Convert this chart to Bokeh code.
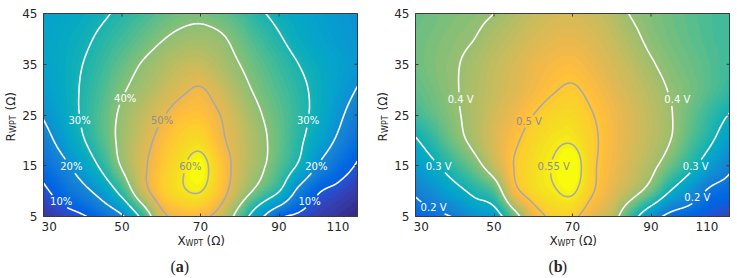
import numpy as np
from contourpy import contour_generator
from bokeh.core.properties import value
from bokeh.embed import file_html
from bokeh.layouts import row
from bokeh.models import FixedTicker, Label, LinearAxis, LinearColorMapper, Range1d
from bokeh.plotting import figure
from bokeh.resources import INLINE

# Scan grid: reactance X_WPT (columns) and resistance R_WPT (rows), in ohms
x_wpt = [30, 35, 40, 45, 50, 55, 60, 65, 70, 75, 80, 85, 90, 95, 100, 105, 110]
r_wpt = [5, 10, 15, 20, 25, 30, 35, 40, 45]

# (a) efficiency in percent, one list per R_WPT row (bottom to top)
efficiency = [
    [5.5, 7.4, 9.3, 13.4, 19.0, 31.8, 47.5, 51.5, 51.5, 47.0, 36.0, 22.7, 11.6, 8.5, 6.6, 4.8, 3.0],
    [8.7, 13.1, 17.6, 23.7, 33.0, 46.1, 54.5, 59.0, 60.2, 53.5, 44.6, 37.4, 30.3, 18.0, 10.7, 8.3, 6.0],
    [13.0, 18.0, 24.3, 31.8, 40.7, 48.2, 54.0, 58.8, 62.3, 54.5, 46.8, 41.7, 35.8, 29.0, 19.5, 13.7, 9.3],
    [16.8, 23.0, 29.3, 35.6, 41.9, 47.1, 52.0, 56.0, 57.5, 51.5, 46.6, 42.0, 37.0, 31.6, 25.2, 18.8, 13.0],
    [20.6, 25.6, 30.9, 36.2, 41.2, 45.2, 49.2, 52.8, 53.5, 50.0, 45.3, 40.6, 36.5, 32.4, 27.6, 21.8, 16.0],
    [23.0, 26.6, 30.8, 35.0, 39.2, 42.5, 45.6, 48.8, 50.5, 46.9, 42.4, 38.5, 35.1, 31.8, 28.0, 23.8, 19.6],
    [24.5, 27.0, 30.0, 33.4, 36.9, 40.3, 43.0, 45.5, 46.0, 43.5, 40.0, 36.6, 33.3, 30.0, 27.0, 24.5, 22.0],
    [25.0, 26.6, 28.6, 31.4, 34.1, 36.9, 39.6, 41.5, 42.2, 41.0, 37.6, 34.1, 30.7, 27.5, 25.0, 23.0, 21.5],
    [24.0, 25.5, 27.0, 29.0, 31.5, 34.0, 36.3, 38.0, 38.5, 37.0, 34.5, 31.0, 28.2, 26.0, 24.0, 22.5, 21.0],
]

# (b) output voltage in volts, one list per R_WPT row (bottom to top)
voltage = [
    [0.167, 0.185, 0.205, 0.243, 0.262, 0.365, 0.467, 0.510, 0.510, 0.467, 0.430, 0.335, 0.240, 0.178, 0.163, 0.148, 0.134],
    [0.210, 0.243, 0.277, 0.317, 0.355, 0.478, 0.525, 0.545, 0.556, 0.505, 0.463, 0.425, 0.373, 0.298, 0.242, 0.190, 0.173],
    [0.254, 0.292, 0.335, 0.378, 0.433, 0.500, 0.530, 0.552, 0.575, 0.510, 0.476, 0.445, 0.414, 0.370, 0.318, 0.262, 0.213],
    [0.294, 0.335, 0.378, 0.415, 0.453, 0.490, 0.520, 0.540, 0.545, 0.510, 0.480, 0.453, 0.427, 0.400, 0.355, 0.310, 0.258],
    [0.340, 0.366, 0.392, 0.418, 0.446, 0.473, 0.500, 0.520, 0.525, 0.502, 0.477, 0.452, 0.428, 0.403, 0.368, 0.333, 0.297],
    [0.360, 0.378, 0.396, 0.416, 0.436, 0.456, 0.476, 0.496, 0.505, 0.487, 0.464, 0.442, 0.420, 0.396, 0.376, 0.355, 0.332],
    [0.370, 0.384, 0.396, 0.413, 0.432, 0.450, 0.467, 0.480, 0.485, 0.470, 0.450, 0.430, 0.405, 0.385, 0.370, 0.355, 0.340],
    [0.370, 0.380, 0.390, 0.400, 0.418, 0.435, 0.450, 0.462, 0.465, 0.455, 0.437, 0.413, 0.390, 0.375, 0.362, 0.350, 0.340],
    [0.365, 0.374, 0.382, 0.390, 0.400, 0.418, 0.434, 0.445, 0.448, 0.440, 0.423, 0.397, 0.383, 0.370, 0.358, 0.348, 0.340],
]

# Contour levels (white and grey lines)
eff_white = [10, 20, 30, 40]
eff_grey = [50, 60]
volt_white = [0.2, 0.3, 0.4]
volt_grey = [0.5, 0.55]

# Colour limits of each map
eff_clim = (3.0, 62.5)
volt_clim = (0.10, 0.565)

# In-line contour labels: (level, text, X, R)
eff_labels = [
    (10, "10%", 34.5, 8.0), (10, "10%", 97.8, 8.0),
    (20, "20%", 37.1, 14.9), (20, "20%", 99.5, 14.9),
    (30, "30%", 39.2, 23.9), (30, "30%", 97.4, 23.9),
    (40, "40%", 50.8, 28.3),
    (50, "50%", 60.2, 23.9),
    (60, "60%", 67.4, 14.9),
]
volt_labels = [
    (0.2, "0.2 V", 34.6, 6.7), (0.2, "0.2 V", 101.8, 8.8),
    (0.3, "0.3 V", 35.9, 14.9), (0.3, "0.3 V", 101.4, 14.9),
    (0.4, "0.4 V", 41.5, 28.1), (0.4, "0.4 V", 96.7, 28.1),
    (0.5, "0.5 V", 58.9, 23.8),
    (0.55, "0.55 V", 65.2, 14.9),
]

x_ticks = [30, 50, 70, 90, 110]
r_ticks = [5, 15, 25, 35, 45]

# parula colour map, 64 entries
_PARULA = [
    (0.2081, 0.1663, 0.5292), (0.2116, 0.1898, 0.5777), (0.2123, 0.2138, 0.6270), (0.2081, 0.2386, 0.6771),
    (0.1959, 0.2645, 0.7279), (0.1707, 0.2919, 0.7792), (0.1253, 0.3242, 0.8303), (0.0591, 0.3598, 0.8683),
    (0.0117, 0.3875, 0.8820), (0.0060, 0.4086, 0.8828), (0.0165, 0.4266, 0.8786), (0.0329, 0.4430, 0.8720),
    (0.0498, 0.4586, 0.8641), (0.0629, 0.4737, 0.8554), (0.0723, 0.4887, 0.8467), (0.0779, 0.5040, 0.8384),
    (0.0793, 0.5200, 0.8312), (0.0749, 0.5375, 0.8263), (0.0641, 0.5570, 0.8240), (0.0488, 0.5772, 0.8228),
    (0.0343, 0.5966, 0.8199), (0.0265, 0.6137, 0.8135), (0.0239, 0.6287, 0.8038), (0.0231, 0.6418, 0.7913),
    (0.0228, 0.6535, 0.7768), (0.0267, 0.6642, 0.7607), (0.0384, 0.6743, 0.7436), (0.0590, 0.6838, 0.7254),
    (0.0843, 0.6928, 0.7062), (0.1133, 0.7015, 0.6859), (0.1453, 0.7098, 0.6646), (0.1801, 0.7177, 0.6424),
    (0.2178, 0.7250, 0.6193), (0.2586, 0.7317, 0.5954), (0.3022, 0.7376, 0.5712), (0.3482, 0.7424, 0.5473),
    (0.3953, 0.7459, 0.5244), (0.4420, 0.7481, 0.5033), (0.4871, 0.7491, 0.4840), (0.5300, 0.7491, 0.4661),
    (0.5709, 0.7485, 0.4494), (0.6099, 0.7473, 0.4337), (0.6473, 0.7456, 0.4188), (0.6834, 0.7435, 0.4044),
    (0.7184, 0.7411, 0.3905), (0.7525, 0.7384, 0.3768), (0.7858, 0.7356, 0.3633), (0.8185, 0.7327, 0.3498),
    (0.8507, 0.7299, 0.3360), (0.8824, 0.7274, 0.3217), (0.9139, 0.7258, 0.3063), (0.9450, 0.7261, 0.2886),
    (0.9739, 0.7314, 0.2666), (0.9938, 0.7455, 0.2403), (0.9990, 0.7653, 0.2164), (0.9955, 0.7861, 0.1967),
    (0.9880, 0.8066, 0.1794), (0.9789, 0.8271, 0.1633), (0.9697, 0.8481, 0.1475), (0.9626, 0.8705, 0.1309),
    (0.9589, 0.8949, 0.1132), (0.9598, 0.9218, 0.0948), (0.9661, 0.9514, 0.0755), (0.9763, 0.9831, 0.0538),
]
PARULA = ["#%02x%02x%02x" % tuple(int(round(c * 255)) for c in rgb) for rgb in _PARULA]

# map area in pixels and the white margins around it
MAP_W, MAP_H = 314, 203
PAD_TOP, PAD_BOTTOM = 13, 62
SX = MAP_W / (x_wpt[-1] - x_wpt[0])
SY = MAP_H / (r_wpt[-1] - r_wpt[0])
FONT = "DejaVu Sans"
INK = "#262626"
EDGE = "#3a3a3a"
GREY_LINE = "#a9a9a9"
GREY_TEXT = "#8f8f8f"
LABEL_FS = 10
CHAR_W = {".": 0.318, " ": 0.318, "%": 0.95, "V": 0.684}
NB = "\u00a0"


def catmull_rom(v, n):
    """Smooth resampling of the last axis onto n evenly spaced points."""
    v = np.asarray(v, float)
    N = v.shape[-1]
    pad = np.concatenate([2 * v[..., :1] - v[..., 1:2], v, 2 * v[..., -1:] - v[..., -2:-1]], axis=-1)
    t = np.linspace(0, N - 1, n)
    i = np.clip(np.floor(t).astype(int), 0, N - 2)
    u = t - i
    p0, p1, p2, p3 = pad[..., i], pad[..., i + 1], pad[..., i + 2], pad[..., i + 3]
    return 0.5 * (2 * p1 + (-p0 + p2) * u + (2 * p0 - 5 * p1 + 4 * p2 - p3) * u ** 2
                  + (-p0 + 3 * p1 - 3 * p2 + p3) * u ** 3)


def shade_field(z, nx, ny):
    zx = catmull_rom(z, nx)
    return catmull_rom(zx.T, ny).T


def label_box(text, x, y):
    w = sum(CHAR_W.get(c, 0.636) for c in text) * LABEL_FS
    return ((x - x_wpt[0]) * SX, (y - r_wpt[0]) * SY, w / 2 + 2.5, 6.0)


def split_line(line, boxes):
    px = (line[:, 0] - x_wpt[0]) * SX
    py = (line[:, 1] - r_wpt[0]) * SY
    keep = np.ones(len(line), bool)
    for cx, cy, hw, hh in boxes:
        keep &= ~((np.abs(px - cx) < hw) & (np.abs(py - cy) < hh))
    pieces, start = [], None
    for k, ok in enumerate(keep):
        if ok and start is None:
            start = k
        if not ok and start is not None:
            if k - start > 1:
                pieces.append(line[start:k])
            start = None
    if start is not None and len(line) - start > 1:
        pieces.append(line[start:])
    return pieces


def note(p, text, dx, dy, x=None, y=None, size="12px", align="left", baseline="middle",
         angle=0.0, font=FONT, style="normal"):
    p.add_layout(Label(x=x_wpt[0] if x is None else x, y=r_wpt[0] if y is None else y,
                       x_offset=dx, y_offset=dy, text=text, text_font_size=size,
                       text_align=align, text_baseline=baseline, angle=angle,
                       text_font=font, text_font_style=style, text_color=INK))


def panel(z, white, grey, labels, clim, letter, width, pad_left, cap_dx):
    z = np.asarray(z, float)
    xf = np.linspace(x_wpt[0], x_wpt[-1], 321)
    yf = np.linspace(r_wpt[0], r_wpt[-1], 161)
    zf = shade_field(z, len(xf), len(yf))

    pad_right = width - pad_left - MAP_W
    x_range = Range1d(x_wpt[0] - pad_left / SX, x_wpt[-1] + pad_right / SX)
    y_range = Range1d(r_wpt[0] - PAD_BOTTOM / SY, r_wpt[-1] + PAD_TOP / SY)
    p = figure(width=width, height=278, output_backend="svg", toolbar_location=None,
               x_range=x_range, y_range=y_range, x_axis_location=None, y_axis_location=None,
               min_border=0)
    p.grid.visible = False
    p.outline_line_color = None

    mapper = LinearColorMapper(palette=PARULA, low=clim[0], high=clim[1])
    p.image(image=[zf], x=x_wpt[0], y=r_wpt[0], dw=x_wpt[-1] - x_wpt[0],
            dh=r_wpt[-1] - r_wpt[0], color_mapper=mapper)

    gen = contour_generator(xf, yf, zf)
    for levels, color in ((white, "white"), (grey, GREY_LINE)):
        xs, ys = [], []
        for lev in levels:
            boxes = [label_box(t, lx, ly) for (lv, t, lx, ly) in labels if lv == lev]
            for line in gen.lines(lev):
                for piece in split_line(np.asarray(line), boxes):
                    xs.append(piece[:, 0])
                    ys.append(piece[:, 1])
        p.multi_line(xs=xs, ys=ys, line_color=color, line_width=1.6)

    p.text(x=[l[2] for l in labels], y=[l[3] for l in labels], text=[l[1] for l in labels],
           text_color=["white" if l[0] in white else GREY_TEXT for l in labels],
           text_font=value(FONT), text_font_size=f"{LABEL_FS}px",
           text_align="center", text_baseline="middle")

    # frame of the map with inward ticks on all four sides
    p.quad(left=x_wpt[0], right=x_wpt[-1], bottom=r_wpt[0], top=r_wpt[-1],
           fill_color=None, line_color=EDGE, line_width=1)
    p.segment(x0=x_ticks, y0=[r_wpt[-1]] * len(x_ticks), x1=x_ticks,
              y1=[r_wpt[-1] - 3 / SY] * len(x_ticks), line_color=EDGE, line_width=1)
    p.segment(x0=[x_wpt[-1]] * len(r_ticks), y0=r_ticks, x1=[x_wpt[-1] - 3 / SX] * len(r_ticks),
              y1=r_ticks, line_color=EDGE, line_width=1)

    xaxis = LinearAxis(fixed_location=r_wpt[0], ticker=FixedTicker(ticks=x_ticks),
                       major_label_overrides={x_ticks[0]: NB * 3 + str(x_ticks[0]),
                                              x_ticks[-1]: str(x_ticks[-1]) + NB * 5})
    yaxis = LinearAxis(fixed_location=x_wpt[0], ticker=FixedTicker(ticks=r_ticks))
    p.add_layout(xaxis, "below")
    p.add_layout(yaxis, "left")
    for ax in (xaxis, yaxis):
        ax.major_tick_in = 3
        ax.major_tick_out = 0
        ax.minor_tick_line_color = None
        ax.axis_line_color = None
        ax.major_tick_line_color = EDGE
        ax.major_label_text_font = FONT
        ax.major_label_text_font_size = "12px"
        ax.major_label_text_color = INK
    xaxis.major_label_standoff = 3
    yaxis.major_label_standoff = 6

    # axis titles with subscripts
    note(p, "X", -23, -24, x=70)
    note(p, "WPT", -15, -27, x=70, size="8px")
    note(p, "(\u03a9)", 6, -24, x=70)
    note(p, "R", -33, 75, angle=np.pi / 2)
    note(p, "WPT", -30, 83.5, angle=np.pi / 2, size="8px")
    note(p, "(\u03a9)", -33, 106, angle=np.pi / 2)

    # panel caption
    note(p, "(", cap_dx - 9, -50, font="Liberation Serif", size="16px")
    note(p, letter, cap_dx - 3.8, -50, font="Liberation Serif", size="16px", style="bold")
    note(p, ")", cap_dx + 4.2, -50, font="Liberation Serif", size="16px")
    return p


pa = panel(efficiency, eff_white, eff_grey, eff_labels, eff_clim, "a", 368, 43, 136)
pb = panel(voltage, volt_white, volt_grey, volt_labels, volt_clim, "b", 369, 47, 142)

layout = row(pa, pb)
open("out.html", "w").write(file_html(layout, INLINE))
